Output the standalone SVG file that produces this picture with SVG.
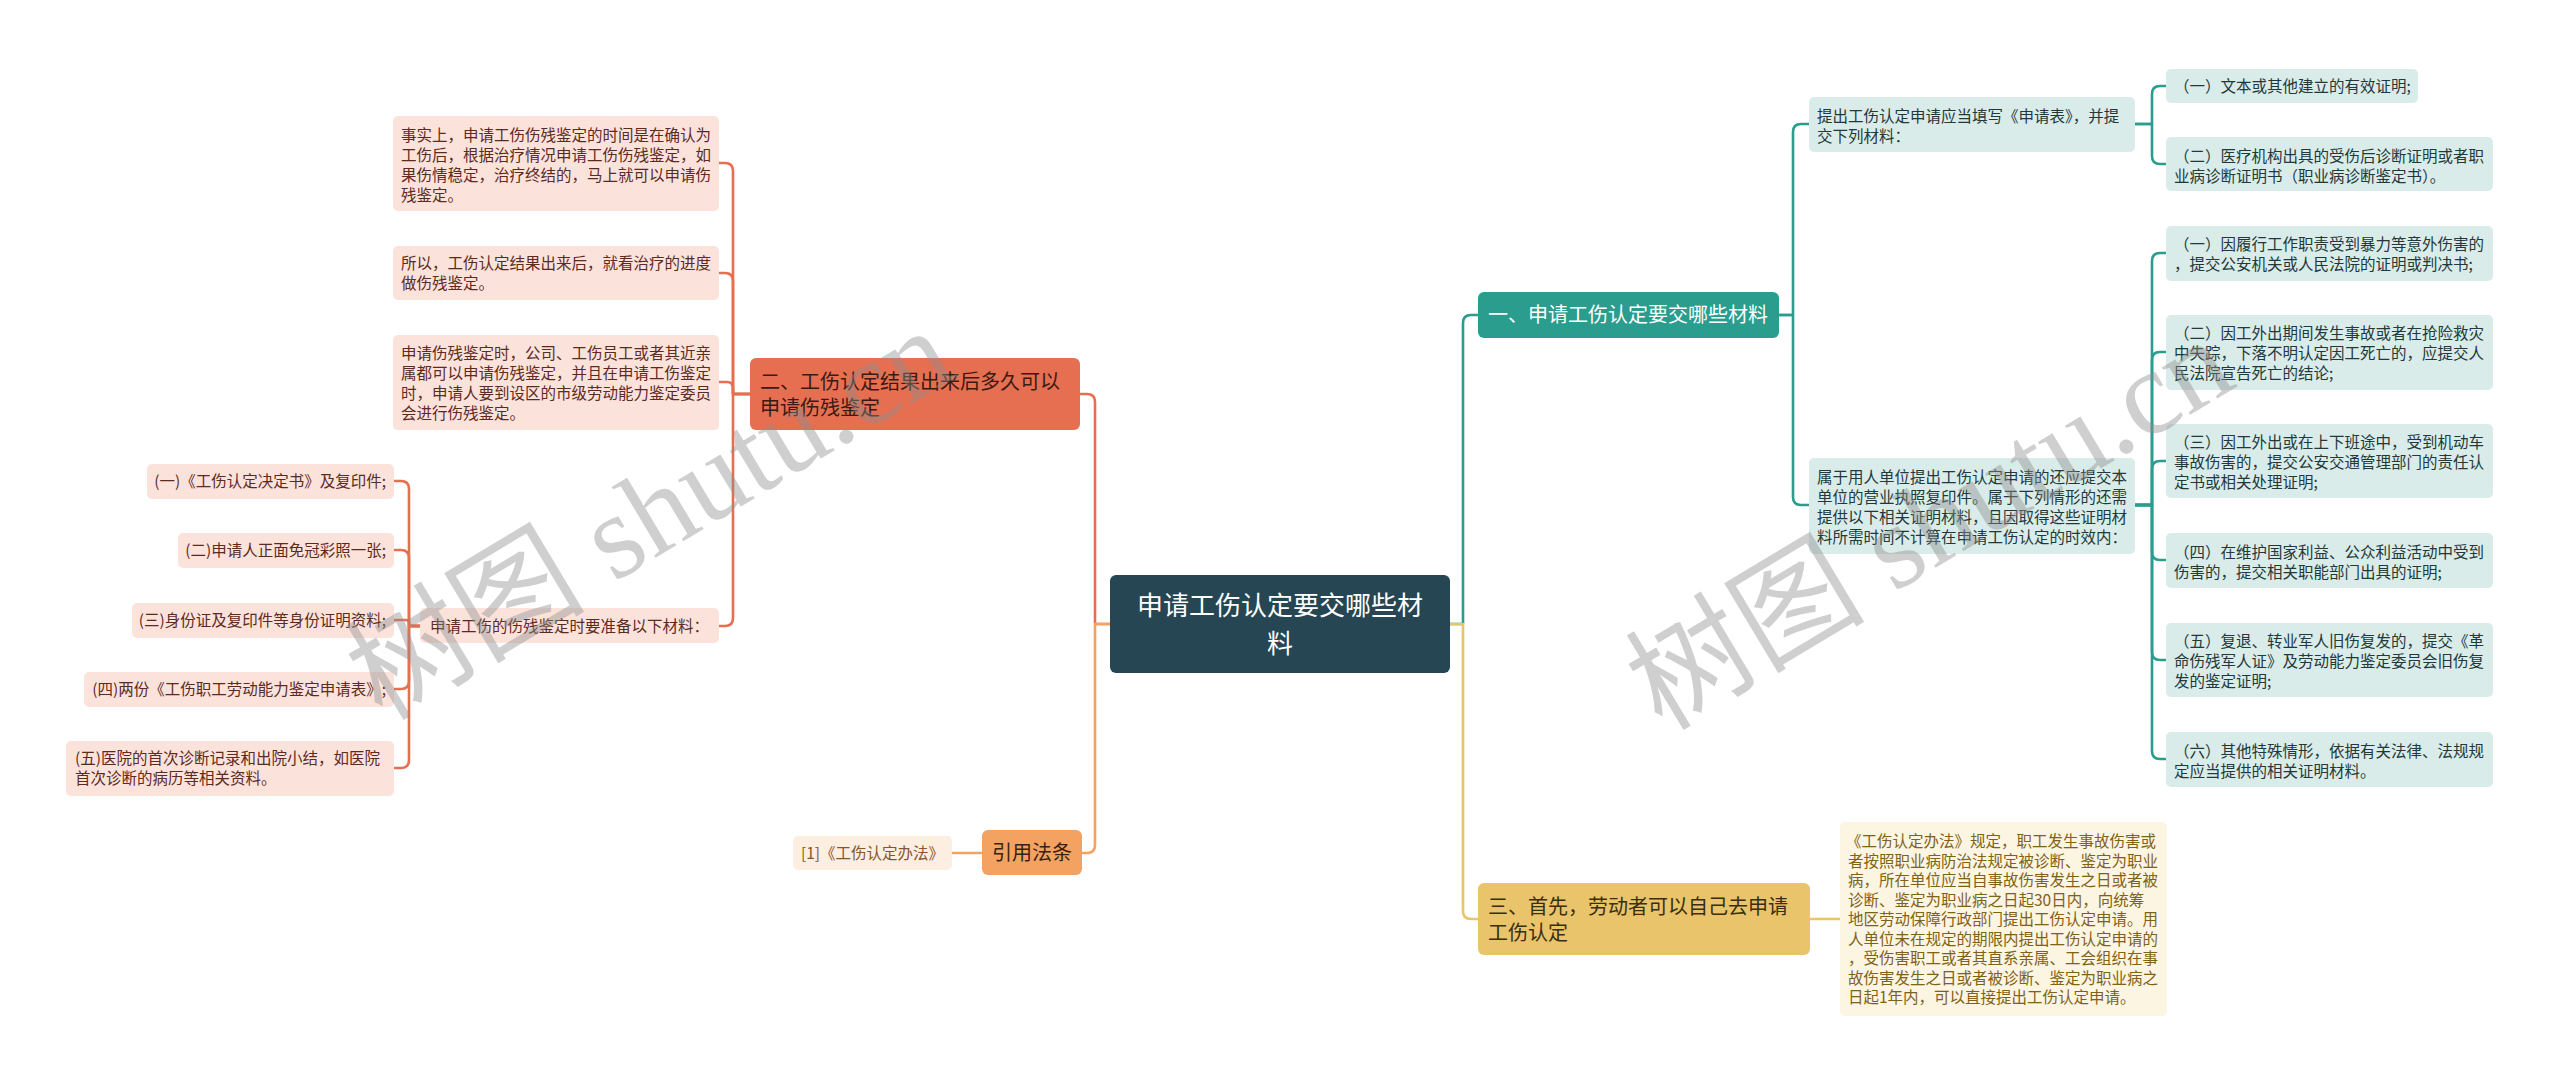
<svg xmlns="http://www.w3.org/2000/svg" width="2560" height="1084" viewBox="0 0 2560 1084">
<style>
text{font-family:"Noto Sans CJK SC","Liberation Sans",sans-serif;}
.c{fill:none;stroke-width:2.6;stroke-linecap:round;stroke-linejoin:round}
.red{stroke:#e76f51}.org{stroke:#f4a261}.tea{stroke:#2a9d8f}.yel{stroke:#e9c46a}
.pk{fill:#fbe3dc}.tl{fill:#daece9}.pc{fill:#fdeee2}.cr{fill:#fcf5e2}
.s{font-size:15.5px}
.tpk{fill:#5e2a1e}.ttl{fill:#22383a}.tpc{fill:#8a5426}.tcr{fill:#7f6216}
.m{font-size:20px}
.wm{font-family:"Liberation Serif","Noto Sans CJK SC",serif;font-size:120px;fill:#8c8c8c;fill-opacity:0.42}
</style>
<rect width="2560" height="1084" fill="#ffffff"/>
<g id="connectors">
<path class="c red" d="M1110,624 H1095 V402 Q1095,394 1087,394 H1080"/>
<path class="c org" d="M1110,624 H1095 V845 Q1095,853 1087,853 H1082"/>
<path class="c tea" d="M1450,624 H1463 V323 Q1463,315 1471,315 H1478"/>
<path class="c yel" d="M1450,624 H1463 V911 Q1463,919 1471,919 H1478"/>
<path class="c red" d="M750,394 H733 V171 Q733,163 725,163 H719"/>
<path class="c red" d="M750,394 H733 V281 Q733,273 725,273 H719"/>
<path class="c red" d="M750,394 H733 V388 Q733,382 727,382 H719"/>
<path class="c red" d="M750,394 H733 V618 Q733,626 725,626 H719"/>
<path class="c red" d="M420,626 H409 V489 Q409,481 401,481 H394"/>
<path class="c red" d="M420,626 H409 V558 Q409,550 401,550 H394"/>
<path class="c red" d="M420,626 H409 V623 Q409,620 406,620 H394"/>
<path class="c red" d="M420,626 H409 V681 Q409,689 401,689 H394"/>
<path class="c red" d="M420,626 H409 V760 Q409,768 401,768 H394"/>
<path class="c org" d="M982,853 H952"/>
<path class="c tea" d="M1779,315 H1793 V132 Q1793,124 1801,124 H1809"/>
<path class="c tea" d="M1779,315 H1793 V497 Q1793,505 1801,505 H1809"/>
<path class="c tea" d="M2135,124 H2152 V94 Q2152,86 2160,86 H2166"/>
<path class="c tea" d="M2135,124 H2152 V156 Q2152,164 2160,164 H2166"/>
<path class="c tea" d="M2135,505 H2152 V261 Q2152,253 2160,253 H2166"/>
<path class="c tea" d="M2135,505 H2152 V360 Q2152,352 2160,352 H2166"/>
<path class="c tea" d="M2135,505 H2152 V469 Q2152,461 2160,461 H2166"/>
<path class="c tea" d="M2135,505 H2152 V552 Q2152,560 2160,560 H2166"/>
<path class="c tea" d="M2135,505 H2152 V652 Q2152,660 2160,660 H2166"/>
<path class="c tea" d="M2135,505 H2152 V751 Q2152,759 2160,759 H2166"/>
<path class="c yel" d="M1810,919 H1840"/>
</g>
<g id="root">
<rect x="1110" y="575" width="340" height="98" rx="6" fill="#264653"/>
<text x="1280" y="615" font-size="26" fill="#ffffff" text-anchor="middle">申请工伤认定要交哪些材</text>
<text x="1280" y="653" font-size="26" fill="#ffffff" text-anchor="middle">料</text>
</g>
<g id="b2">
<rect x="750" y="358" width="330" height="72" rx="6" fill="#e76f51"/>
<text class="m" x="760" y="389" fill="#3a1a12">二、工伤认定结果出来后多久可以</text>
<text class="m" x="760" y="415" fill="#3a1a12">申请伤残鉴定</text>
</g>
<g id="b2a">
<rect class="pk" x="393" y="116" width="326" height="95" rx="5"/>
<text class="s tpk" x="401" y="141">事实上，申请工伤伤残鉴定的时间是在确认为</text>
<text class="s tpk" x="401" y="161">工伤后，根据治疗情况申请工伤伤残鉴定，如</text>
<text class="s tpk" x="401" y="181">果伤情稳定，治疗终结的，马上就可以申请伤</text>
<text class="s tpk" x="401" y="201">残鉴定。</text>
</g>
<g id="b2b">
<rect class="pk" x="393" y="246" width="326" height="54" rx="5"/>
<text class="s tpk" x="401" y="269">所以，工伤认定结果出来后，就看治疗的进度</text>
<text class="s tpk" x="401" y="289">做伤残鉴定。</text>
</g>
<g id="b2c">
<rect class="pk" x="393" y="335" width="326" height="95" rx="5"/>
<text class="s tpk" x="401" y="359">申请伤残鉴定时，公司、工伤员工或者其近亲</text>
<text class="s tpk" x="401" y="379">属都可以申请伤残鉴定，并且在申请工伤鉴定</text>
<text class="s tpk" x="401" y="399">时，申请人要到设区的市级劳动能力鉴定委员</text>
<text class="s tpk" x="401" y="419">会进行伤残鉴定。</text>
</g>
<g id="b2d">
<rect class="pk" x="420" y="608" width="299" height="35" rx="5"/>
<text class="s tpk" x="430" y="632">申请工伤的伤残鉴定时要准备以下材料：</text>
</g>
<g id="m1"><rect class="pk" x="147" y="464" width="247" height="35" rx="5"/><text class="s tpk" x="386" y="487" text-anchor="end">(一)《工伤认定决定书》及复印件;</text></g>
<g id="m2"><rect class="pk" x="178" y="533" width="216" height="35" rx="5"/><text class="s tpk" x="386" y="556" text-anchor="end">(二)申请人正面免冠彩照一张;</text></g>
<g id="m3"><rect class="pk" x="132" y="603" width="262" height="35" rx="5"/><text class="s tpk" x="386" y="626" text-anchor="end">(三)身份证及复印件等身份证明资料;</text></g>
<g id="m4"><rect class="pk" x="84" y="672" width="310" height="35" rx="5"/><text class="s tpk" x="386" y="695" text-anchor="end">(四)两份《工伤职工劳动能力鉴定申请表》;</text></g>
<g id="m5"><rect class="pk" x="66" y="741" width="328" height="55" rx="5"/>
<text class="s tpk" x="75" y="764">(五)医院的首次诊断记录和出院小结，如医院</text>
<text class="s tpk" x="75" y="784">首次诊断的病历等相关资料。</text></g>
<g id="b4">
<rect x="982" y="830" width="100" height="45" rx="6" fill="#f4a261"/>
<text class="m" x="1032" y="860" fill="#3a2210" text-anchor="middle">引用法条</text>
</g>
<g id="b4a">
<rect class="pc" x="793" y="836" width="159" height="34" rx="5"/>
<text class="s tpc" x="801" y="859">[1]《工伤认定办法》</text>
</g>
<g id="b1">
<rect x="1478" y="292" width="301" height="46" rx="6" fill="#2a9d8f"/>
<text class="m" x="1488" y="322" fill="#ffffff">一、申请工伤认定要交哪些材料</text>
</g>
<g id="b1a">
<rect class="tl" x="1809" y="97" width="326" height="55" rx="5"/>
<text class="s ttl" x="1817" y="122">提出工伤认定申请应当填写《申请表》，并提</text>
<text class="s ttl" x="1817" y="142">交下列材料：</text>
</g>
<g id="b1b">
<rect class="tl" x="1809" y="458" width="326" height="96" rx="5"/>
<text class="s ttl" x="1817" y="483">属于用人单位提出工伤认定申请的还应提交本</text>
<text class="s ttl" x="1817" y="503">单位的营业执照复印件。属于下列情形的还需</text>
<text class="s ttl" x="1817" y="523">提供以下相关证明材料，且因取得这些证明材</text>
<text class="s ttl" x="1817" y="543">料所需时间不计算在申请工伤认定的时效内：</text>
</g>
<g id="t1"><rect class="tl" x="2166" y="69" width="252" height="34" rx="5"/>
<text class="s ttl" x="2174" y="92">（一）文本或其他建立的有效证明;</text></g>
<g id="t2"><rect class="tl" x="2166" y="137" width="327" height="54" rx="5"/>
<text class="s ttl" x="2174" y="162">（二）医疗机构出具的受伤后诊断证明或者职</text>
<text class="s ttl" x="2174" y="182">业病诊断证明书（职业病诊断鉴定书）。</text></g>
<g id="t3"><rect class="tl" x="2166" y="226" width="327" height="55" rx="5"/>
<text class="s ttl" x="2174" y="250">（一）因履行工作职责受到暴力等意外伤害的</text>
<text class="s ttl" x="2174" y="270">，提交公安机关或人民法院的证明或判决书;</text></g>
<g id="t4"><rect class="tl" x="2166" y="315" width="327" height="75" rx="5"/>
<text class="s ttl" x="2174" y="339">（二）因工外出期间发生事故或者在抢险救灾</text>
<text class="s ttl" x="2174" y="359">中失踪，下落不明认定因工死亡的，应提交人</text>
<text class="s ttl" x="2174" y="379">民法院宣告死亡的结论;</text></g>
<g id="t5"><rect class="tl" x="2166" y="424" width="327" height="74" rx="5"/>
<text class="s ttl" x="2174" y="448">（三）因工外出或在上下班途中，受到机动车</text>
<text class="s ttl" x="2174" y="468">事故伤害的，提交公安交通管理部门的责任认</text>
<text class="s ttl" x="2174" y="488">定书或相关处理证明;</text></g>
<g id="t6"><rect class="tl" x="2166" y="533" width="327" height="55" rx="5"/>
<text class="s ttl" x="2174" y="558">（四）在维护国家利益、公众利益活动中受到</text>
<text class="s ttl" x="2174" y="578">伤害的，提交相关职能部门出具的证明;</text></g>
<g id="t7"><rect class="tl" x="2166" y="623" width="327" height="74" rx="5"/>
<text class="s ttl" x="2174" y="647">（五）复退、转业军人旧伤复发的，提交《革</text>
<text class="s ttl" x="2174" y="667">命伤残军人证》及劳动能力鉴定委员会旧伤复</text>
<text class="s ttl" x="2174" y="687">发的鉴定证明;</text></g>
<g id="t8"><rect class="tl" x="2166" y="732" width="327" height="55" rx="5"/>
<text class="s ttl" x="2174" y="757">（六）其他特殊情形，依据有关法律、法规规</text>
<text class="s ttl" x="2174" y="777">定应当提供的相关证明材料。</text></g>
<g id="b3">
<rect x="1478" y="883" width="332" height="72" rx="6" fill="#e9c46a"/>
<text class="m" x="1488" y="914" fill="#3a2e10">三、首先，劳动者可以自己去申请</text>
<text class="m" x="1488" y="940" fill="#3a2e10">工伤认定</text>
</g>
<g id="b3a">
<rect class="cr" x="1840" y="822" width="327" height="194" rx="5"/>
<text class="s tcr" x="1846" y="847">《工伤认定办法》规定，职工发生事故伤害或</text>
<text class="s tcr" x="1848" y="866.5">者按照职业病防治法规定被诊断、鉴定为职业</text>
<text class="s tcr" x="1848" y="886">病，所在单位应当自事故伤害发生之日或者被</text>
<text class="s tcr" x="1848" y="905.5">诊断、鉴定为职业病之日起30日内，向统筹</text>
<text class="s tcr" x="1848" y="925">地区劳动保障行政部门提出工伤认定申请。用</text>
<text class="s tcr" x="1848" y="944.5">人单位未在规定的期限内提出工伤认定申请的</text>
<text class="s tcr" x="1848" y="964">，受伤害职工或者其直系亲属、工会组织在事</text>
<text class="s tcr" x="1848" y="983.5">故伤害发生之日或者被诊断、鉴定为职业病之</text>
<text class="s tcr" x="1848" y="1003">日起1年内，可以直接提出工伤认定申请。</text>
</g>
<g id="watermark">
<text class="wm" transform="translate(382,722) rotate(-31)">树图 shutu.cn</text>
<text class="wm" transform="translate(1662,732) rotate(-31)">树图 shutu.cn</text>
</g>
</svg>
